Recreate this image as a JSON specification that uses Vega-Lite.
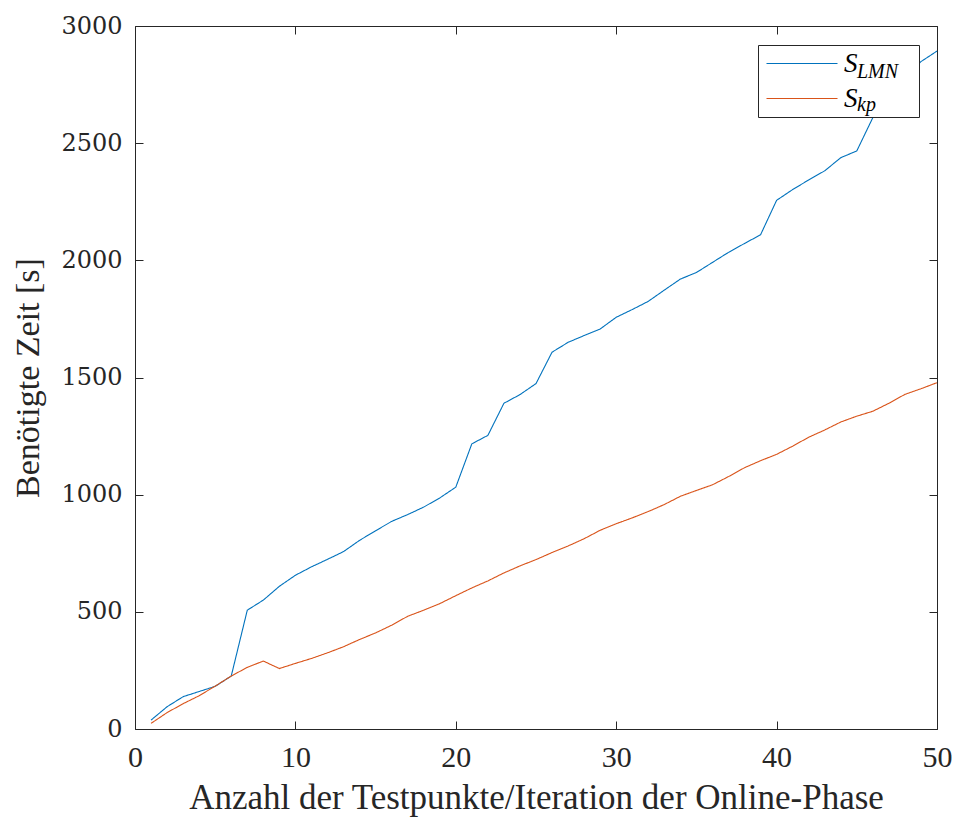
{
  "$schema": "https://vega.github.io/schema/vega-lite/v6.json",
  "width": 802,
  "height": 703,
  "autosize": {"type": "none"},
  "padding": {"left": 135, "top": 26, "right": 20, "bottom": 89},
  "background": "white",
  "config": {
    "view": {"stroke": null},
    "axis": {
      "domainColor": "#262626",
      "tickColor": "#262626",
      "domainWidth": 1,
      "tickWidth": 1,
      "grid": false,
      "labelColor": "#262626",
      "titleColor": "#262626",
      "titleFontWeight": "normal"
    }
  },
  "data": {
    "values": [
      {"n": 1, "t": 38, "s": "S_LMN", "sub": "LMN"},
      {"n": 2, "t": 95, "s": "S_LMN", "sub": "LMN"},
      {"n": 3, "t": 138, "s": "S_LMN", "sub": "LMN"},
      {"n": 4, "t": 160, "s": "S_LMN", "sub": "LMN"},
      {"n": 5, "t": 182, "s": "S_LMN", "sub": "LMN"},
      {"n": 6, "t": 226, "s": "S_LMN", "sub": "LMN"},
      {"n": 7, "t": 507, "s": "S_LMN", "sub": "LMN"},
      {"n": 8, "t": 550, "s": "S_LMN", "sub": "LMN"},
      {"n": 9, "t": 609, "s": "S_LMN", "sub": "LMN"},
      {"n": 10, "t": 656, "s": "S_LMN", "sub": "LMN"},
      {"n": 11, "t": 692, "s": "S_LMN", "sub": "LMN"},
      {"n": 12, "t": 724, "s": "S_LMN", "sub": "LMN"},
      {"n": 13, "t": 757, "s": "S_LMN", "sub": "LMN"},
      {"n": 14, "t": 805, "s": "S_LMN", "sub": "LMN"},
      {"n": 15, "t": 846, "s": "S_LMN", "sub": "LMN"},
      {"n": 16, "t": 886, "s": "S_LMN", "sub": "LMN"},
      {"n": 17, "t": 915, "s": "S_LMN", "sub": "LMN"},
      {"n": 18, "t": 947, "s": "S_LMN", "sub": "LMN"},
      {"n": 19, "t": 986, "s": "S_LMN", "sub": "LMN"},
      {"n": 20, "t": 1032, "s": "S_LMN", "sub": "LMN"},
      {"n": 21, "t": 1217, "s": "S_LMN", "sub": "LMN"},
      {"n": 22, "t": 1253, "s": "S_LMN", "sub": "LMN"},
      {"n": 23, "t": 1390, "s": "S_LMN", "sub": "LMN"},
      {"n": 24, "t": 1427, "s": "S_LMN", "sub": "LMN"},
      {"n": 25, "t": 1474, "s": "S_LMN", "sub": "LMN"},
      {"n": 26, "t": 1608, "s": "S_LMN", "sub": "LMN"},
      {"n": 27, "t": 1650, "s": "S_LMN", "sub": "LMN"},
      {"n": 28, "t": 1679, "s": "S_LMN", "sub": "LMN"},
      {"n": 29, "t": 1707, "s": "S_LMN", "sub": "LMN"},
      {"n": 30, "t": 1757, "s": "S_LMN", "sub": "LMN"},
      {"n": 31, "t": 1790, "s": "S_LMN", "sub": "LMN"},
      {"n": 32, "t": 1825, "s": "S_LMN", "sub": "LMN"},
      {"n": 33, "t": 1873, "s": "S_LMN", "sub": "LMN"},
      {"n": 34, "t": 1920, "s": "S_LMN", "sub": "LMN"},
      {"n": 35, "t": 1948, "s": "S_LMN", "sub": "LMN"},
      {"n": 36, "t": 1991, "s": "S_LMN", "sub": "LMN"},
      {"n": 37, "t": 2034, "s": "S_LMN", "sub": "LMN"},
      {"n": 38, "t": 2072, "s": "S_LMN", "sub": "LMN"},
      {"n": 39, "t": 2109, "s": "S_LMN", "sub": "LMN"},
      {"n": 40, "t": 2256, "s": "S_LMN", "sub": "LMN"},
      {"n": 41, "t": 2302, "s": "S_LMN", "sub": "LMN"},
      {"n": 42, "t": 2343, "s": "S_LMN", "sub": "LMN"},
      {"n": 43, "t": 2382, "s": "S_LMN", "sub": "LMN"},
      {"n": 44, "t": 2438, "s": "S_LMN", "sub": "LMN"},
      {"n": 45, "t": 2467, "s": "S_LMN", "sub": "LMN"},
      {"n": 46, "t": 2609, "s": "S_LMN", "sub": "LMN"},
      {"n": 47, "t": 2700, "s": "S_LMN", "sub": "LMN"},
      {"n": 48, "t": 2775, "s": "S_LMN", "sub": "LMN"},
      {"n": 49, "t": 2848, "s": "S_LMN", "sub": "LMN"},
      {"n": 50, "t": 2893, "s": "S_LMN", "sub": "LMN"},
      {"n": 1, "t": 24, "s": "S_kp", "sub": "kp"},
      {"n": 2, "t": 70, "s": "S_kp", "sub": "kp"},
      {"n": 3, "t": 108, "s": "S_kp", "sub": "kp"},
      {"n": 4, "t": 142, "s": "S_kp", "sub": "kp"},
      {"n": 5, "t": 183, "s": "S_kp", "sub": "kp"},
      {"n": 6, "t": 226, "s": "S_kp", "sub": "kp"},
      {"n": 7, "t": 263, "s": "S_kp", "sub": "kp"},
      {"n": 8, "t": 290, "s": "S_kp", "sub": "kp"},
      {"n": 9, "t": 258, "s": "S_kp", "sub": "kp"},
      {"n": 10, "t": 280, "s": "S_kp", "sub": "kp"},
      {"n": 11, "t": 301, "s": "S_kp", "sub": "kp"},
      {"n": 12, "t": 325, "s": "S_kp", "sub": "kp"},
      {"n": 13, "t": 351, "s": "S_kp", "sub": "kp"},
      {"n": 14, "t": 382, "s": "S_kp", "sub": "kp"},
      {"n": 15, "t": 410, "s": "S_kp", "sub": "kp"},
      {"n": 16, "t": 443, "s": "S_kp", "sub": "kp"},
      {"n": 17, "t": 481, "s": "S_kp", "sub": "kp"},
      {"n": 18, "t": 507, "s": "S_kp", "sub": "kp"},
      {"n": 19, "t": 535, "s": "S_kp", "sub": "kp"},
      {"n": 20, "t": 569, "s": "S_kp", "sub": "kp"},
      {"n": 21, "t": 602, "s": "S_kp", "sub": "kp"},
      {"n": 22, "t": 632, "s": "S_kp", "sub": "kp"},
      {"n": 23, "t": 666, "s": "S_kp", "sub": "kp"},
      {"n": 24, "t": 696, "s": "S_kp", "sub": "kp"},
      {"n": 25, "t": 723, "s": "S_kp", "sub": "kp"},
      {"n": 26, "t": 753, "s": "S_kp", "sub": "kp"},
      {"n": 27, "t": 781, "s": "S_kp", "sub": "kp"},
      {"n": 28, "t": 812, "s": "S_kp", "sub": "kp"},
      {"n": 29, "t": 848, "s": "S_kp", "sub": "kp"},
      {"n": 30, "t": 876, "s": "S_kp", "sub": "kp"},
      {"n": 31, "t": 901, "s": "S_kp", "sub": "kp"},
      {"n": 32, "t": 928, "s": "S_kp", "sub": "kp"},
      {"n": 33, "t": 958, "s": "S_kp", "sub": "kp"},
      {"n": 34, "t": 993, "s": "S_kp", "sub": "kp"},
      {"n": 35, "t": 1018, "s": "S_kp", "sub": "kp"},
      {"n": 36, "t": 1042, "s": "S_kp", "sub": "kp"},
      {"n": 37, "t": 1077, "s": "S_kp", "sub": "kp"},
      {"n": 38, "t": 1115, "s": "S_kp", "sub": "kp"},
      {"n": 39, "t": 1145, "s": "S_kp", "sub": "kp"},
      {"n": 40, "t": 1172, "s": "S_kp", "sub": "kp"},
      {"n": 41, "t": 1207, "s": "S_kp", "sub": "kp"},
      {"n": 42, "t": 1245, "s": "S_kp", "sub": "kp"},
      {"n": 43, "t": 1276, "s": "S_kp", "sub": "kp"},
      {"n": 44, "t": 1310, "s": "S_kp", "sub": "kp"},
      {"n": 45, "t": 1335, "s": "S_kp", "sub": "kp"},
      {"n": 46, "t": 1356, "s": "S_kp", "sub": "kp"},
      {"n": 47, "t": 1390, "s": "S_kp", "sub": "kp"},
      {"n": 48, "t": 1428, "s": "S_kp", "sub": "kp"},
      {"n": 49, "t": 1452, "s": "S_kp", "sub": "kp"},
      {"n": 50, "t": 1478, "s": "S_kp", "sub": "kp"}
    ]
  },
  "layer": [
    {
      "mark": {"type": "line", "strokeWidth": 1.1},
      "encoding": {
        "x": {
          "field": "n", "type": "quantitative",
          "scale": {"domain": [0, 50], "nice": false},
          "axis": {
            "orient": "bottom",
            "values": [0, 10, 20, 30, 40, 50],
            "tickSize": -8,
            "labelPadding": 21,
            "labelFont": "Liberation Serif",
            "labelFontSize": 30,
            "labelFlush": false,
            "title": "Anzahl der Testpunkte/Iteration der Online-Phase",
            "titleFont": "Liberation Serif",
            "titleFontSize": 35,
            "titlePadding": 8
          }
        },
        "y": {
          "field": "t", "type": "quantitative",
          "scale": {"domain": [0, 3000], "nice": false},
          "axis": {
            "orient": "left",
            "values": [0, 500, 1000, 1500, 2000, 2500, 3000],
            "format": "d",
            "tickSize": -8,
            "labelPadding": 21,
            "labelFont": "DejaVu Serif",
            "labelFontSize": 24,
            "labelFlush": false,
            "title": "Benötigte Zeit [s]",
            "titleFont": "Liberation Serif",
            "titleFontSize": 34,
            "titlePadding": 15
          }
        },
        "color": {
          "field": "s", "type": "nominal",
          "scale": {"domain": ["S_LMN", "S_kp"], "range": ["#0072BD", "#D95319"]},
          "legend": {
            "orient": "none",
            "legendX": 623,
            "legendY": 19,
            "zindex": 1,
            "title": null,
            "padding": 5,
            "fillColor": "white",
            "strokeColor": "#262626",
            "symbolType": "M-5,0H30.5M67.5,0",
            "symbolSize": 16,
            "symbolStrokeWidth": 1.1,
            "labelExpr": "'S'",
            "labelFont": "Liberation Serif",
            "labelFontStyle": "italic",
            "labelFontSize": 27,
            "labelColor": "#000000",
            "labelOffset": 54,
            "labelBaseline": "middle",
            "rowPadding": 7
          }
        },
        "strokeDash": {
          "field": "sub", "type": "nominal",
          "scale": {"domain": ["LMN", "kp"], "range": [[1, 0], [1, 0]]},
          "legend": {
            "orient": "none",
            "legendX": 702,
            "legendY": 36,
            "zindex": 2,
            "title": null,
            "padding": 0,
            "symbolOpacity": 0,
            "symbolStrokeWidth": 0,
            "symbolSize": 1,
            "labelFont": "Liberation Serif",
            "labelFontStyle": "italic",
            "labelFontSize": 20,
            "labelColor": "#000000",
            "labelOffset": 0,
            "labelBaseline": "middle",
            "rowPadding": 13
          }
        }
      }
    },
    {
      "mark": {"type": "line", "opacity": 0},
      "encoding": {
        "x": {
          "field": "n", "type": "quantitative",
          "axis": {"orient": "top", "values": [0, 10, 20, 30, 40, 50], "tickSize": -8, "labels": false, "title": null}
        },
        "y": {
          "field": "t", "type": "quantitative",
          "axis": {"orient": "right", "values": [0, 500, 1000, 1500, 2000, 2500, 3000], "tickSize": -8, "labels": false, "title": null}
        },
        "detail": {"field": "s", "type": "nominal"}
      }
    }
  ],
  "resolve": {"axis": {"x": "independent", "y": "independent"}}
}
